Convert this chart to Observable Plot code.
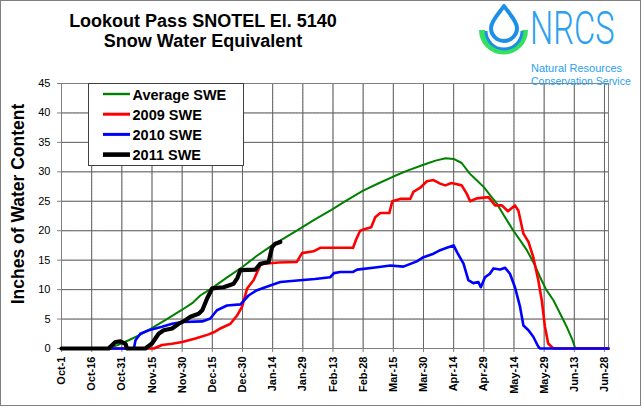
<!DOCTYPE html>
<html>
<head>
<meta charset="utf-8">
<script src="https://cdn.jsdelivr.net/npm/d3@7"></script>
<script src="https://cdn.jsdelivr.net/npm/@observablehq/plot@0.6"></script>
<style>
html,body{margin:0;padding:0;background:#fff;}
#wrap{position:relative;width:644px;height:417px;overflow:hidden;font-family:Arial,"Liberation Sans",sans-serif;background:#fff;}
#wrap svg{position:absolute;left:0;top:0;}
</style>
</head>
<body>
<div id="wrap"></div>
<script>
// ---------- text ----------
const titleLines = ["Lookout Pass SNOTEL El. 5140", "Snow Water Equivalent"];
const yLabel = "Inches of Water Content";
const logoText = ["NRCS", "Natural Resources", "Conservation Service"];

// ---------- categories / ticks ----------
const seasonStart = "2010-10-01";
const seriesNames = ["Average SWE", "2009 SWE", "2010 SWE", "2011 SWE"];
const tickDays = [0, 15, 30, 45, 60, 75, 90, 105, 120, 135, 150, 165, 180, 195, 210, 225, 240, 255, 270];
const tickLabels = ["Oct-1", "Oct-16", "Oct-31", "Nov-15", "Nov-30", "Dec-15", "Dec-30", "Jan-14", "Jan-29",
  "Feb-13", "Feb-28", "Mar-15", "Mar-30", "Apr-14", "Apr-29", "May-14", "May-29", "Jun-13", "Jun-28"];
const yTicks = [0, 5, 10, 15, 20, 25, 30, 35, 40, 45];

// ---------- series: [days since Oct-1, inches SWE] ----------
const sweAverage = [[0,0],[23,0],[28,0.6],[33.4,1.4],[39,2.3],[44.7,3.4],[52,4.9],[59.6,6.5],[65,7.7],[69,9.0],
  [75,10.3],[82,12.0],[89.8,13.8],[97,15.7],[104.7,17.5],[111,18.8],[117,20.0],[125,21.7],[134,23.5],[142,25.2],
  [150,26.8],[158,28.1],[165,29.2],[172,30.2],[180,31.2],[186,31.9],[191,32.3],[195,32.2],[199,31.5],[203,29.7],
  [207,28.4],[210,27.4],[213,26.1],[216.5,24.6],[220,22.6],[224.7,20.0],[228,18.4],[231.4,16.7],[235,14.4],
  [238,12.1],[241,10.0],[244.6,8.2],[248,5.9],[251.2,3.7],[254,1.5],[255.5,0],[272,0]];
const swe2009 = [[0,0],[45.9,0],[50,0.6],[55,0.8],[60,1.1],[66.6,1.7],[73.2,2.4],[76,2.8],[79,3.4],[84,4.2],
  [87.3,5.6],[89.8,7.1],[92.3,10.2],[95.5,11.6],[98.8,14.1],[100.5,14.4],[108,14.6],[117,14.7],[119.6,16.2],
  [125.3,16.5],[128.7,17.1],[145,17.1],[146.5,18.5],[148.5,20.0],[151,20.3],[154,20.6],[156,22.3],[158.5,23.0],
  [163,23.0],[164.5,25.0],[168.4,25.4],[173.4,25.4],[175,26.6],[178.4,27.3],[181.7,28.4],[185,28.6],[188.3,28.0],
  [190.8,27.7],[194,28.1],[199,27.7],[201.5,26.3],[203.2,25.0],[206.5,25.5],[212.3,25.7],[215.6,24.3],[219,24.3],
  [222,23.3],[225.5,24.3],[227.2,23.4],[229.7,19.5],[232.2,18.1],[234.6,15.5],[237.1,11.6],[238.8,8.2],
  [240.4,3.7],[242,0.85],[244.6,0],[272,0]];
const swe2010 = [[0,0],[36,0],[36.8,1.4],[39.2,2.5],[43.4,3.1],[50,3.7],[55,4.2],[60,4.5],[70,4.6],[74,5.1],
  [77.3,6.5],[82.3,7.3],[89,7.5],[93,9.0],[97.2,9.9],[103.8,10.7],[108.8,11.3],[118.7,11.6],[126,11.8],[133.6,12.1],
  [135.5,12.8],[138.6,13.0],[145,13.0],[147,13.4],[157,13.8],[163.5,14.1],[170,13.9],[176.7,14.8],[180,15.5],
  [185,16.1],[188.3,16.7],[191.6,17.1],[195,17.5],[196.6,16.4],[199.9,14.4],[202.3,11.6],[204.8,11.1],[207.3,11.3],
  [208.5,10.4],[210.6,12.1],[213,12.7],[214.8,13.6],[218.1,13.4],[220.6,13.7],[223,12.7],[225.5,10.4],[228,7.1],
  [229.7,3.9],[232.2,3.1],[234.6,2.0],[237.1,0.3],[238,0],[272,0]];
const swe2011 = [[0,0],[23.5,0],[24.3,0.3],[26.8,1.1],[29.3,1.2],[31.8,0.8],[32.6,0],[41.7,0],[45,0.85],[48.3,2.5],
  [50.8,3.1],[55,3.4],[58.3,4.2],[61.6,4.8],[64.1,5.4],[68.2,5.9],[70,6.5],[72.4,8.5],[74.9,10.2],[80.6,10.4],
  [85.6,11.0],[87.5,12.0],[88.9,13.3],[96.4,13.4],[98.9,14.4],[103,14.7],[104.7,17.2],[106.3,17.8],[108.8,18.1]];
const axisEndDay = 272;

// ---------- styling ----------
const seriesStyle = [
  {color: "#008000", width: 2},
  {color: "#ff0000", width: 2.6},
  {color: "#0000ff", width: 2.6},
  {color: "#000000", width: 4.2}
];
const FONT = "Arial, 'Liberation Sans', Helvetica, sans-serif";

const start = new Date(seasonStart + "T00:00:00Z");
const toDate = d => new Date(start.getTime() + d * 864e5);
const seriesData = [sweAverage, swe2009, swe2010, swe2011].map(s => s.map(([d, v]) => ({date: toDate(d), swe: v})));
const tickDates = tickDays.map(toDate);
const labelOf = new Map(tickDates.map((d, i) => [+d, tickLabels[i]]));
const yMax = yTicks[yTicks.length - 1];
const xStart = toDate(0), xEnd = toDate(axisEndDay);

// grid segments built from the tick arrays, drawn as line marks through the scales
const gridV = tickDates.flatMap(d => [{date: d, swe: 0, k: "v" + (+d)}, {date: d, swe: yMax, k: "v" + (+d)}]);
const gridH = yTicks.flatMap(v => [{date: xStart, swe: v, k: "h" + v}, {date: xEnd, swe: v, k: "h" + v}]);
const gridRows = gridV.concat(gridH);

const chart = Plot.plot({
  width: 644,
  height: 417,
  marginLeft: 61,
  marginRight: 36,
  marginTop: 83,
  marginBottom: 69,
  style: {fontFamily: FONT, background: "transparent", color: "#000", overflow: "visible"},
  x: {type: "utc", domain: [xStart, xEnd]},
  y: {domain: [0, yMax]},
  marks: [
    Plot.line(gridRows, {x: "date", y: "swe", z: "k", stroke: "#c4c4c4", strokeWidth: 1}),
    Plot.line(gridRows, {x: "date", y: "swe", z: "k", stroke: "#5e5e5e", strokeWidth: 1, strokeDasharray: "2,1"}),
    Plot.frame({stroke: "#808080", strokeWidth: 1, fill: "none"}),
    Plot.axisX(tickDates, {
      tickRotate: -90, tickFormat: d => labelOf.get(+d), fontWeight: "bold", fontSize: 11,
      tickSize: 4, tickPadding: 4, label: null, stroke: "#808080"
    }),
    Plot.axisY(yTicks, {tickSize: 4, tickPadding: 7, fontSize: 11, label: null, stroke: "#808080"}),
    ...seriesData.map((rows, i) => Plot.line(rows, {
      x: "date", y: "swe", stroke: seriesStyle[i].color, strokeWidth: seriesStyle[i].width,
      strokeLinejoin: "round", strokeLinecap: "round"
    })),
    Plot.text([yLabel], {text: d => d, frameAnchor: "middle", rotate: -90, dx: -316.5, dy: -12,
      fontSize: 17.5, fontWeight: "bold", fill: "#000"})
  ]
});

const wrap = document.getElementById("wrap");
wrap.appendChild(chart);

// ---------- overlay: border, title, legend, logo ----------
const NS = "http://www.w3.org/2000/svg";
const ov = d3.select(wrap).append("svg").attr("xmlns", NS)
  .attr("width", 644).attr("height", 417)
  .style("font-family", FONT);

ov.append("rect").attr("x", 0.5).attr("y", 0.5).attr("width", 640).attr("height", 405)
  .attr("fill", "none").attr("stroke", "#000").attr("stroke-dasharray", "1,1");

ov.selectAll("text.title").data(titleLines).join("text")
  .attr("class", "title")
  .attr("x", 203).attr("y", (d, i) => 27 + i * 20)
  .attr("text-anchor", "middle").attr("font-size", 18).attr("font-weight", "bold")
  .text(d => d);

// legend
const lg = ov.append("g");
lg.append("rect").attr("x", 88.5).attr("y", 83.5).attr("width", 155).attr("height", 82)
  .attr("fill", "#fff").attr("stroke", "#404040");
seriesNames.forEach((name, i) => {
  const base = 99.5 + i * 20.2;
  lg.append("line").attr("x1", 103).attr("x2", 130).attr("y1", base - 5.5).attr("y2", base - 5.5)
    .attr("stroke", seriesStyle[i].color).attr("stroke-width", seriesStyle[i].width + 0.4);
  lg.append("text").attr("x", 132.5).attr("y", base).attr("font-size", 14.5).attr("font-weight", "bold")
    .text(name);
});

// logo
const logo = ov.append("g");
logo.append("path")
  .attr("d", "M482,30 A21.5,21.5 0 0 0 525,30")
  .attr("fill", "none").attr("stroke", "#33e060").attr("stroke-width", 6);
logo.append("path")
  .attr("d", "M486,31 A18,18 0 0 0 522,31")
  .attr("fill", "none").attr("stroke", "#1e8fe6").attr("stroke-width", 3);
logo.append("path")
  .attr("d", "M504,6 C500,12 491,21 491,28 A13,13 0 0 0 517,28 C517,21 508,12 504,6 Z")
  .attr("fill", "#fff").attr("stroke", "#1e8fe6").attr("stroke-width", 4).attr("stroke-linejoin", "round");
logo.append("text").attr("transform", "translate(530,44) scale(0.71,1)").attr("font-size", 46)
  .attr("font-family", "Roboto, 'DejaVu Sans', sans-serif").attr("font-weight", 300)
  .attr("fill", "#2aa0f0").text(logoText[0]);
logo.append("text").attr("x", 531).attr("y", 72).attr("font-size", 11)
  .attr("fill", "#2aa0f0").text(logoText[1]);
logo.append("text").attr("x", 531).attr("y", 85).attr("font-size", 10.5)
  .attr("fill", "#2aa0f0").text(logoText[2]);
</script>
</body>
</html>
